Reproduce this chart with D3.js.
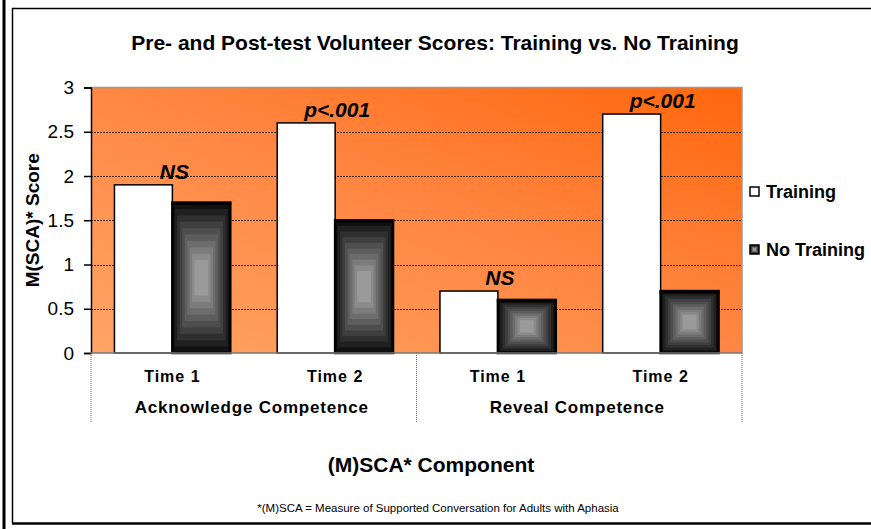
<!DOCTYPE html>
<meta charset='utf-8'>
<style>
  body { margin: 0; background: #fff; }
  text { font-family: "Liberation Sans", Arial, sans-serif; fill: #000; }
  .grid line { stroke: #3a2a20; stroke-dasharray: 2,1; stroke-width: 1; }
</style>
<svg width="871" height="529"></svg>
<script src="https://d3js.org/d3.v7.min.js"></script>
<script>

// data
var times = ["Time 1", "Time 2", "Time 1 ", "Time 2 "];
var components = ["Acknowledge Competence", "Reveal Competence"];
var componentOf = [0, 0, 1, 1];
var series = ["Training", "No Training"];
var training = [1.9, 2.6, 0.7, 2.7];
var noTraining = [1.7, 1.5, 0.6, 0.7];
var notes = ["NS", "p<.001", "NS", "p<.001"];
var yTicks = [0, 0.5, 1, 1.5, 2, 2.5, 3];

var svg = d3.select("svg"),
  pLeft = 91, pRight = 742, pTop = 87.5, pBottom = 353;

// frame
svg.append("line").attr("x1", 4).attr("x2", 4).attr("y1", 0).attr("y2", 529)
  .style("stroke", "#000").style("stroke-width", 3);
svg.append("path").attr("d", "M871,8.5H12.5V523.5")
  .style("fill", "none").style("stroke", "#000").style("stroke-width", 1.5);
svg.append("line").attr("x1", 12).attr("x2", 871).attr("y1", 523.5).attr("y2", 523.5)
  .style("stroke", "#000").style("stroke-width", 2.5);

var defs = svg.append("defs");
var bg = defs.append("linearGradient").attr("id", "bg")
  .attr("x1", 0).attr("y1", 1).attr("x2", 1).attr("y2", 0);
bg.append("stop").attr("offset", "0%").attr("stop-color", "#ffa566");
bg.append("stop").attr("offset", "55%").attr("stop-color", "#ff8540");
bg.append("stop").attr("offset", "100%").attr("stop-color", "#ff660c");

var x0 = d3.scaleBand().domain(times).range([pLeft, pRight]);
var x1 = d3.scaleBand().domain(series).range([0, x0.bandwidth()]).paddingOuter(0.405);
var y = d3.scaleLinear().domain([0, 3]).range([pBottom, pTop]);

// plot area
svg.append("rect").attr("x", pLeft).attr("y", pTop)
  .attr("width", pRight - pLeft).attr("height", pBottom - pTop)
  .style("fill", "url(#bg)");
svg.append("path").attr("d", "M" + pLeft + "," + pTop + "H" + pRight + "V" + pBottom)
  .style("fill", "none").style("stroke", "#999").style("stroke-width", 1.5);

svg.append("g").attr("class", "grid")
  .selectAll("line").data(yTicks.filter(function(d) { return d > 0 && d < 3; }))
  .enter().append("line")
  .attr("x1", pLeft).attr("x2", pRight)
  .attr("y1", function(d) { return Math.round(y(d)) + 0.5; })
  .attr("y2", function(d) { return Math.round(y(d)) + 0.5; });

// bars
var shade = d3.interpolateRgb("#111", "#9a9a9a");
var steps = 10;

var g = svg.append("g");
times.forEach(function(t, i) {
  var bx = x0(t) + x1("Training"), bw = x1.bandwidth();
  g.append("rect")
    .attr("x", bx).attr("y", y(training[i]))
    .attr("width", bw).attr("height", y(0) - y(training[i]))
    .style("fill", "#fff").style("stroke", "#000").style("stroke-width", 1.5);

  var nx = x0(t) + x1("No Training"), nt = y(noTraining[i]), nh = y(0) - nt;
  for (var k = 0; k < steps; k++) {
    var dx = k * (bw / 2) * 0.85 / steps, dy = k * (nh / 2) * 0.85 / steps;
    g.append("rect")
      .attr("x", nx + dx).attr("y", nt + dy)
      .attr("width", bw - 2 * dx).attr("height", nh - 2 * dy)
      .style("fill", shade(k / (steps - 1)));
  }
  g.append("rect")
    .attr("x", nx).attr("y", nt)
    .attr("width", bw).attr("height", nh)
    .style("fill", "none").style("stroke", "#000").style("stroke-width", 2.5);
  g.append("line")
    .attr("x1", nx - 1).attr("x2", nx + bw + 1).attr("y1", nt + 1).attr("y2", nt + 1)
    .style("stroke", "#000").style("stroke-width", 3);

  g.append("text")
    .attr("x", x0(t) + x0.bandwidth() / 2 + 2)
    .attr("y", y(Math.max(training[i], noTraining[i])) - 6)
    .attr("text-anchor", "middle")
    .style("font-weight", "bold").style("font-style", "italic").style("font-size", "21px")
    .text(notes[i]);
});

// y axis
var yAxis = svg.append("g").attr("transform", "translate(" + pLeft + ",0)")
  .call(d3.axisLeft(y).tickValues(yTicks).tickSize(7).tickPadding(10)
    .tickFormat(function(d) { return d; }));
yAxis.select(".domain").style("stroke", "#000").style("stroke-width", 1.5);
yAxis.selectAll(".tick line").style("stroke", "#000").style("stroke-width", 1.5);
yAxis.selectAll("text").style("font-size", "19px")
  .style("font-family", "'Liberation Sans', Arial, sans-serif");

svg.append("line").attr("x1", pLeft).attr("x2", pRight).attr("y1", pBottom).attr("y2", pBottom)
  .style("stroke", "#777").style("stroke-width", 1.5);

// category axis
var divs = [pLeft, x0(times[2]), pRight];
svg.selectAll(".div").data(divs).enter().append("line")
  .attr("x1", function(d) { return d; }).attr("x2", function(d) { return d; })
  .attr("y1", pBottom).attr("y2", 423)
  .style("stroke", "#666").style("stroke-dasharray", "1,1");

svg.selectAll(".time").data(times).enter().append("text")
  .attr("x", function(d) { return x0(d) + x0.bandwidth() / 2; })
  .attr("y", 382)
  .attr("text-anchor", "middle")
  .style("font-weight", "bold").style("font-size", "16px").style("letter-spacing", "1px")
  .text(function(d) { return d.trim(); });

svg.selectAll(".comp").data(components).enter().append("text")
  .attr("x", function(d, j) {
    var a = times.filter(function(t, i) { return componentOf[i] === j; });
    return (x0(a[0]) + x0(a[a.length - 1]) + x0.bandwidth()) / 2 - 2;
  })
  .attr("y", 413)
  .attr("text-anchor", "middle")
  .style("font-weight", "bold").style("font-size", "17px").style("letter-spacing", "0.8px")
  .text(function(d) { return d; });

// titles
svg.append("text").attr("x", 435).attr("y", 50).attr("text-anchor", "middle")
  .style("font-weight", "bold").style("font-size", "21px")
  .text("Pre- and Post-test Volunteer Scores: Training vs. No Training");

svg.append("text").attr("x", 431).attr("y", 472).attr("text-anchor", "middle")
  .style("font-weight", "bold").style("font-size", "21px")
  .text("(M)SCA* Component");

svg.append("text").attr("x", 438).attr("y", 512).attr("text-anchor", "middle")
  .style("font-size", "11.5px")
  .text("*(M)SCA = Measure of Supported Conversation for Adults with Aphasia");

svg.append("text")
  .attr("transform", "translate(39," + (pTop + pBottom) / 2 + ") rotate(-90)")
  .attr("text-anchor", "middle")
  .style("font-weight", "bold").style("font-size", "19px")
  .text("M(SCA)* Score");

// legend
var leg = svg.append("g").selectAll("g").data(series).enter().append("g")
  .attr("transform", function(d, i) { return "translate(750," + (187 + i * 58) + ")"; });
leg.each(function(d, i) {
  var el = d3.select(this);
  if (i === 0) {
    el.append("rect").attr("width", 9).attr("height", 9)
      .style("fill", "#fff").style("stroke", "#000").style("stroke-width", 1.5);
  } else {
    for (var k = 0; k < 4; k++) {
      el.append("rect").attr("x", k).attr("y", k).attr("width", 9 - 2 * k).attr("height", 9 - 2 * k)
        .style("fill", shade(k / 3));
    }
    el.append("rect").attr("width", 9).attr("height", 9)
      .style("fill", "none").style("stroke", "#000").style("stroke-width", 1.5);
  }
  el.append("text").attr("x", 16).attr("y", 11)
    .style("font-weight", "bold").style("font-size", "18px")
    .text(d);
});

</script>
